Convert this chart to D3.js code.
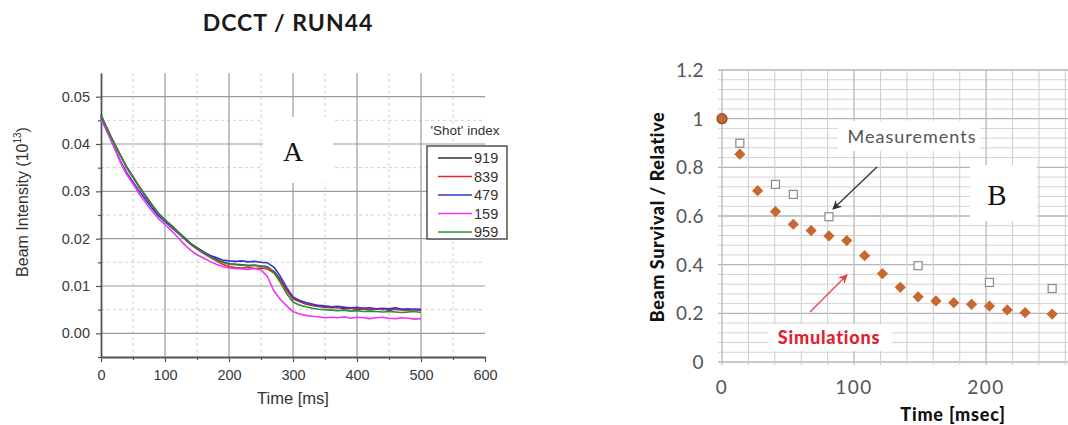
<!DOCTYPE html>
<html>
<head>
<meta charset="utf-8">
<script src="https://cdn.jsdelivr.net/npm/d3@7"></script>
<style>
  body { margin: 0; background: #fff; }
  svg { display: block; }
</style>
</head>
<body>
<div id="chart"></div>
<script>
// ---- panel A : DCCT / RUN44 ----
var timeA = [0,10,20,30,40,50,60,70,80,90,100,110,120,130,140,150,160,170,180,190,200,
  210,220,230,240,250,260,270,280,290,300,310,320,330,340,350,360,370,380,390,400,
  410,420,430,440,450,460,470,480,490,500];
var shots = ["919", "839", "479", "159", "959"];
var shotColors = ["#333333", "#e8262a", "#3535d8", "#f035f0", "#2e8b3a"];
var shot919 = [0.0462,0.0430,0.0404,0.0376,0.0352,0.0331,0.0309,0.0290,0.0271,0.0253,0.0240,0.0228,0.0215,0.0203,0.0190,0.0181,0.0172,0.0164,0.0157,0.0151,0.0147,
  0.0146,0.0145,0.0143,0.0144,0.0142,0.0140,0.0131,0.0114,0.0092,0.0073,0.0067,0.0062,0.0059,0.0057,0.0055,0.0054,0.0055,0.0052,0.0053,0.0051,
  0.0052,0.0050,0.0051,0.0052,0.0049,0.0051,0.0050,0.0049,0.0051,0.0049];
var shot839 = [0.0458,0.0433,0.0401,0.0378,0.0350,0.0329,0.0310,0.0288,0.0269,0.0251,0.0239,0.0226,0.0213,0.0201,0.0188,0.0178,0.0169,0.0161,0.0153,0.0146,0.0141,
  0.0139,0.0138,0.0139,0.0137,0.0138,0.0136,0.0128,0.0112,0.0091,0.0074,0.0068,0.0063,0.0060,0.0058,0.0056,0.0055,0.0054,0.0055,0.0053,0.0052,
  0.0053,0.0051,0.0052,0.0050,0.0052,0.0051,0.0050,0.0049,0.0051,0.0050];
var shot479 = [0.0455,0.0425,0.0395,0.0365,0.0340,0.0320,0.0300,0.0282,0.0264,0.0248,0.0236,0.0224,0.0212,0.0200,0.0189,0.0180,0.0172,0.0165,0.0160,0.0155,0.0153,
  0.0152,0.0153,0.0151,0.0152,0.0150,0.0149,0.0140,0.0121,0.0097,0.0077,0.0070,0.0065,0.0062,0.0059,0.0058,0.0056,0.0057,0.0055,0.0054,0.0055,
  0.0053,0.0054,0.0052,0.0053,0.0052,0.0054,0.0051,0.0052,0.0050,0.0051];
var shot159 = [0.0450,0.0428,0.0396,0.0362,0.0336,0.0316,0.0294,0.0276,0.0258,0.0242,0.0230,0.0217,0.0203,0.0188,0.0176,0.0166,0.0159,0.0152,0.0146,0.0141,0.0138,
  0.0137,0.0136,0.0135,0.0137,0.0134,0.0120,0.0090,0.0072,0.0058,0.0046,0.0041,0.0038,0.0036,0.0035,0.0033,0.0034,0.0033,0.0035,0.0032,0.0034,
  0.0033,0.0031,0.0033,0.0034,0.0032,0.0031,0.0033,0.0032,0.0030,0.0031];
var shot959 = [0.0460,0.0431,0.0403,0.0377,0.0351,0.0330,0.0308,0.0289,0.0270,0.0252,0.0239,0.0226,0.0214,0.0201,0.0189,0.0179,0.0170,0.0162,0.0155,0.0150,0.0146,
  0.0145,0.0144,0.0143,0.0144,0.0142,0.0141,0.0129,0.0108,0.0084,0.0066,0.0060,0.0056,0.0053,0.0051,0.0050,0.0049,0.0048,0.0049,0.0047,0.0048,
  0.0046,0.0047,0.0046,0.0045,0.0046,0.0045,0.0044,0.0045,0.0046,0.0044];
var xTicksA = [0, 100, 200, 300, 400, 500, 600];
var yTicksA = [0, 0.01, 0.02, 0.03, 0.04, 0.05];

// ---- panel B : survival ----
var simTime = [0,13.5,27,40.5,54,67.5,81,94.5,108,121.5,135,148.5,162,175.5,189,202.5,216,229.5,250];
var simValue = [1.0,0.854,0.704,0.618,0.566,0.540,0.518,0.499,0.437,0.363,0.307,0.268,0.251,0.244,0.237,0.230,0.214,0.203,0.197];
var measTime = [13.5,40.5,54,81,148.5,202.5,250];
var measValue = [0.899,0.730,0.689,0.597,0.396,0.327,0.302];
var xTicksB = [0, 100, 200];
var yTicksB = [0, 0.2, 0.4, 0.6, 0.8, 1, 1.2];

var svg = d3.select("#chart").append("svg")
  .attr("width", 1068).attr("height", 425)
  .style("font-family", "'Liberation Sans', Arial, sans-serif");

svg.append("rect").attr("width", 1068).attr("height", 425).attr("fill", "#fff");

//### panel A ###
var xA = d3.scaleLinear().domain([0, 600]).range([101, 485]);
var yA = d3.scaleLinear().domain([-0.005, 0.055]).range([357, 73]);
var gA = svg.append("g").attr("class", "panelA");

// minor grid (dashed)
gA.selectAll(".vminor").data(xTicksA.slice(0, 6)).enter().append("line")
  .attr("x1", function(d) { return xA(d + 50); }).attr("x2", function(d) { return xA(d + 50); })
  .attr("y1", yA(0.055)).attr("y2", yA(-0.005))
  .attr("stroke", "#cfcfcf").attr("stroke-dasharray", "3,3");
gA.selectAll(".hminor").data(yTicksA).enter().append("line")
  .attr("x1", xA(0)).attr("x2", xA(600))
  .attr("y1", function(d) { return yA(d - 0.005); }).attr("y2", function(d) { return yA(d - 0.005); })
  .attr("stroke", "#cfcfcf").attr("stroke-dasharray", "3,3");
// major grid
gA.selectAll(".vmajor").data(xTicksA.slice(1, 6)).enter().append("line")
  .attr("x1", function(d) { return xA(d); }).attr("x2", function(d) { return xA(d); })
  .attr("y1", yA(0.055)).attr("y2", yA(-0.005))
  .attr("stroke", "#9a9a9a").attr("stroke-width", 1.2);
gA.selectAll(".hmajor").data(yTicksA).enter().append("line")
  .attr("x1", xA(0)).attr("x2", xA(600))
  .attr("y1", function(d) { return yA(d); }).attr("y2", function(d) { return yA(d); })
  .attr("stroke", "#9a9a9a").attr("stroke-width", 1.2);

// white box behind "A"
gA.append("rect").attr("x", 263).attr("y", 117).attr("width", 70).attr("height", 66).attr("fill", "#fff");
gA.append("text").attr("x", 293).attr("y", 161).attr("text-anchor", "middle")
  .style("font-family", "'Liberation Serif', 'DejaVu Serif', serif").style("font-size", "28px")
  .attr("fill", "#111").text("A");

// axes
var xAxisA = d3.axisBottom(xA).tickValues(xTicksA).tickSize(5).tickSizeOuter(0);
var gxA = gA.append("g").attr("transform", "translate(0," + 357 + ")").call(xAxisA);
var yAxisA = d3.axisLeft(yA).tickValues(yTicksA).tickSize(5).tickSizeOuter(0).tickFormat(d3.format(".2f"));
var gyA = gA.append("g").attr("transform", "translate(" + 101 + ",0)").call(yAxisA);
gA.append("g").attr("transform", "translate(0," + 357 + ")")
  .call(d3.axisBottom(xA).tickValues([50,150,250,350,450,550]).tickSize(3).tickFormat("").tickSizeOuter(0))
  .select(".domain").remove();
gA.append("g").attr("transform", "translate(" + 101 + ",0)")
  .call(d3.axisLeft(yA).tickValues([-0.005,0.005,0.015,0.025,0.035,0.045]).tickSize(3).tickFormat("").tickSizeOuter(0))
  .select(".domain").remove();
gA.selectAll(".domain").attr("stroke", "#555").attr("stroke-width", 1.8);
gA.selectAll(".tick line").attr("stroke", "#555").attr("stroke-width", 1.2);
gA.selectAll(".tick text").style("font-size", "14.5px").attr("fill", "#3a3a3a");
gxA.selectAll(".tick text").attr("dy", "1.0em");
gyA.selectAll(".tick text").attr("dx", "-3px");

gA.append("text").attr("x", 293).attr("y", 404).attr("text-anchor", "middle")
  .style("font-size", "16.5px").attr("fill", "#333").text("Time [ms]");
var yLabA = gA.append("text").attr("transform", "translate(28,202) rotate(-90)")
  .attr("text-anchor", "middle").style("font-size", "16px").attr("fill", "#333");
yLabA.append("tspan").text("Beam Intensity (10");
yLabA.append("tspan").attr("dy", "-7").style("font-size", "10px").text("13");
yLabA.append("tspan").attr("dy", "7").text(")");

// curves
var seriesA = [shot919, shot839, shot479, shot159, shot959];
var lineA = d3.line()
  .x(function(d, i) { return xA(timeA[i]); })
  .y(function(d) { return yA(d); });
seriesA.forEach(function(s, k) {
  gA.append("path").datum(s).attr("d", lineA)
    .attr("fill", "none").attr("stroke", shotColors[k]).attr("stroke-width", 1.6)
    .attr("stroke-linejoin", "round");
});

// legend
gA.append("text").attr("x", 465).attr("y", 135).attr("text-anchor", "middle")
  .style("font-size", "13.5px").attr("fill", "#333").text("'Shot' index");
gA.append("rect").attr("x", 427).attr("y", 146).attr("width", 80).attr("height", 93)
  .attr("fill", "#fff").attr("stroke", "#444").attr("stroke-width", 1.4);
shots.forEach(function(s, k) {
  var yy = 158 + k * 18.5;
  gA.append("line").attr("x1", 438).attr("x2", 472).attr("y1", yy).attr("y2", yy)
    .attr("stroke", shotColors[k]).attr("stroke-width", 1.4);
  gA.append("text").attr("x", 474).attr("y", yy + 5)
    .style("font-size", "14.5px").attr("fill", "#333").text(s);
});

// title
svg.append("text").attr("x", 288).attr("y", 31).attr("text-anchor", "middle")
  .style("font-family", "Lato, 'Open Sans', sans-serif").style("font-weight", "700")
  .style("font-size", "23px").style("letter-spacing", "1px").attr("fill", "#1a1a1a").text("DCCT / RUN44");

//### panel B ###
var xB = d3.scaleLinear().domain([0, 262]).range([722, 1068]);
var yB = d3.scaleLinear().domain([0, 1.2]).range([362, 70]);
var gB = svg.append("g").attr("class", "panelB").style("font-family", "Lato, 'Open Sans', sans-serif");

var gridX = [0,20,40,60,80,100,120,140,160,180,200,220,240,260];
var gridY = [0,0.04,0.08,0.12,0.16,0.2,0.24,0.28,0.32,0.36,0.4,0.44,0.48,0.52,0.56,0.6,
  0.64,0.68,0.72,0.76,0.8,0.84,0.88,0.92,0.96,1,1.04,1.08,1.12,1.16,1.2];
gB.selectAll(".hg").data(gridY).enter().append("line")
  .attr("x1", xB(0) - 4).attr("x2", 1068)
  .attr("y1", function(d) { return yB(d); }).attr("y2", function(d) { return yB(d); })
  .attr("stroke", function(d, i) { return i % 5 === 0 ? "#b4b4b4" : "#d3d3d3"; })
  .attr("stroke-width", function(d, i) { return i % 5 === 0 ? 1.4 : 1; });
gB.selectAll(".vg").data(gridX).enter().append("line")
  .attr("x1", function(d) { return xB(d); }).attr("x2", function(d) { return xB(d); })
  .attr("y1", yB(1.2)).attr("y2", yB(0) + 3)
  .attr("stroke", function(d) { return d % 100 === 0 ? "#bcbcbc" : "#d0d0d0"; })
  .attr("stroke-width", function(d) { return d % 100 === 0 ? 1.4 : 1.1; });

// white boxes covering grid
gB.append("rect").attr("x", 838).attr("y", 121).attr("width", 142).attr("height", 30).attr("fill", "#fff");
gB.append("rect").attr("x", 970).attr("y", 165).attr("width", 67).attr("height", 56).attr("fill", "#fff");
gB.append("rect").attr("x", 768).attr("y", 324).attr("width", 124).attr("height", 27).attr("fill", "#fff");

// tick labels
gB.selectAll(".ylab").data(yTicksB).enter().append("text")
  .attr("x", 704).attr("y", function(d) { return yB(d) + 7; })
  .attr("text-anchor", "end").style("font-size", "19px").style("letter-spacing", "0.5px").attr("fill", "#555")
  .text(function(d) { return d3.format("")(d); });
gB.selectAll(".xlab").data(xTicksB).enter().append("text")
  .attr("x", function(d) { return xB(d); }).attr("y", 394)
  .attr("text-anchor", "middle").style("font-size", "19px").style("letter-spacing", "1.5px").attr("fill", "#555")
  .text(function(d) { return d; });

gB.append("text").attr("x", 953).attr("y", 421).attr("text-anchor", "middle")
  .style("font-size", "18px").style("font-weight", "900").style("letter-spacing", "0.8px")
  .attr("fill", "#111").text("Time [msec]");
gB.append("text").attr("transform", "translate(664,217) rotate(-90)").attr("text-anchor", "middle")
  .style("font-size", "18px").style("font-weight", "900").style("letter-spacing", "0.6px")
  .attr("fill", "#111").text("Beam Survival / Relative");

// arrows
var defs = svg.append("defs");
[["arrowK", "#333"], ["arrowR", "#e8404a"]].forEach(function(m) {
  defs.append("marker").attr("id", m[0]).attr("viewBox", "0 0 10 10")
    .attr("refX", 9).attr("refY", 5).attr("markerWidth", 7).attr("markerHeight", 7)
    .attr("orient", "auto")
    .append("path").attr("d", "M0,0L10,5L0,10L3,5Z").attr("fill", m[1]);
});
gB.append("line").attr("x1", 877).attr("y1", 167).attr("x2", 833).attr("y2", 209)
  .attr("stroke", "#333").attr("stroke-width", 1.3).attr("marker-end", "url(#arrowK)");
gB.append("line").attr("x1", 810).attr("y1", 312).attr("x2", 847).attr("y2", 275)
  .attr("stroke", "#e8404a").attr("stroke-width", 1.3).attr("marker-end", "url(#arrowR)");

// measurements
gB.selectAll(".meas").data(measTime).enter().append("rect")
  .attr("x", function(d) { return xB(d) - 4; })
  .attr("y", function(d, i) { return yB(measValue[i]) - 4; })
  .attr("width", 8).attr("height", 8)
  .attr("fill", "#fff").attr("stroke", "#8a8a8a").attr("stroke-width", 1.2);

// simulations
var diamond = d3.symbol().type(d3.symbolDiamond2).size(80);
gB.selectAll(".sim").data(simTime.slice(1)).enter().append("path")
  .attr("d", diamond)
  .attr("transform", function(d, i) { return "translate(" + xB(d) + "," + yB(simValue[i + 1]) + ")"; })
  .attr("fill", "#c8672e");
gB.append("circle").attr("cx", xB(simTime[0])).attr("cy", yB(simValue[0])).attr("r", 5)
  .attr("fill", "#c8672e").attr("stroke", "#8a4a20").attr("stroke-width", 1.2);

// annotations
gB.append("text").attr("x", 912).attr("y", 143).attr("text-anchor", "middle")
  .style("font-size", "18px").style("letter-spacing", "1px").attr("fill", "#555").text("Measurements");
gB.append("text").attr("x", 997).attr("y", 205).attr("text-anchor", "middle")
  .style("font-family", "'Liberation Serif', 'DejaVu Serif', serif").style("font-size", "29px")
  .attr("fill", "#111").text("B");
gB.append("text").attr("x", 829).attr("y", 344).attr("text-anchor", "middle")
  .style("font-size", "18px").style("font-weight", "900").style("letter-spacing", "0.8px")
  .attr("fill", "#e0202e").text("Simulations");
</script>
</body>
</html>
